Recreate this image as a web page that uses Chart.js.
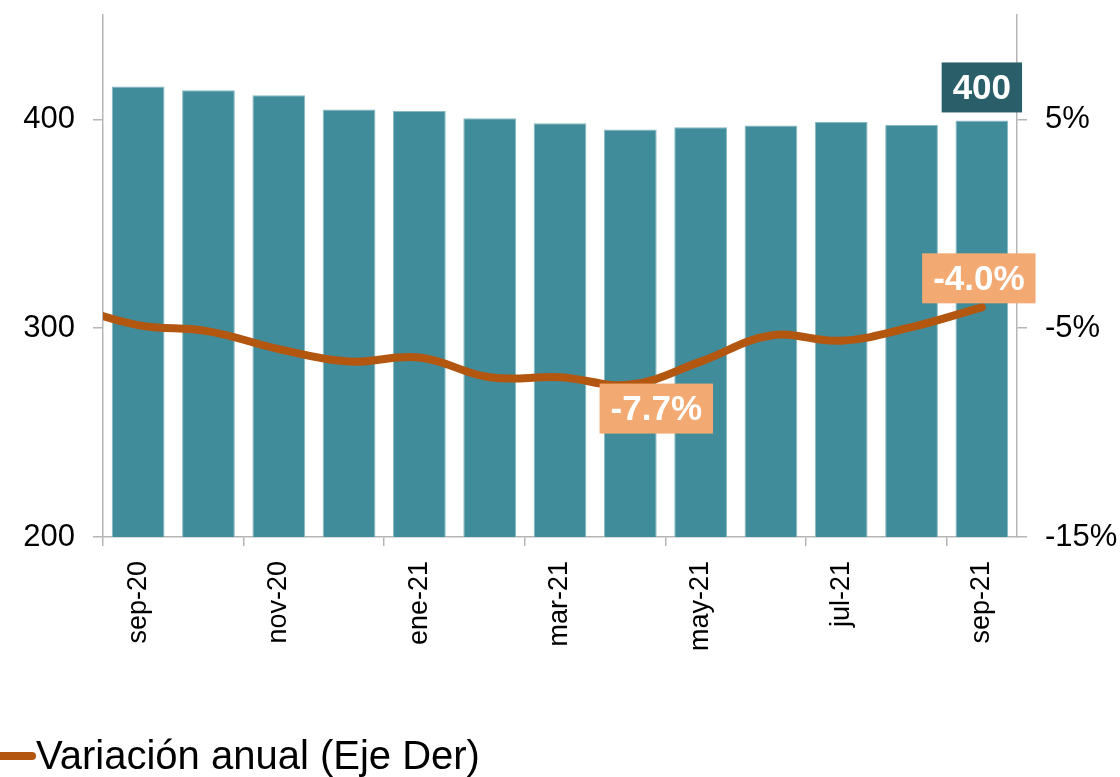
<!DOCTYPE html>
<html>
<head>
<meta charset="utf-8">
<script src="https://cdn.jsdelivr.net/npm/chart.js@4.4.1/dist/chart.umd.min.js"></script>
<style>
  html, body { margin: 0; padding: 0; background: #ffffff; }
  #wrap { width: 1120px; height: 777px; position: relative; }
</style>
</head>
<body>
<div id="wrap"><canvas id="c"></canvas></div>
<script>
// ---- data ----
const categories = ['sep-20','oct-20','nov-20','dic-20','ene-21','feb-21','mar-21','abr-21','may-21','jun-21','jul-21','ago-21','sep-21'];
const barValues = [415.8, 414.0, 411.6, 404.8, 404.0, 400.6, 398.2, 395.2, 396.2, 397.1, 398.7, 397.3, 399.5];
// annual variation (%), starts one month earlier (ago-20) than the bars
const lineMonths = ['ago-20','sep-20','oct-20','nov-20','dic-20','ene-21','feb-21','mar-21','abr-21','may-21','jun-21','jul-21','ago-21','sep-21'];
const lineValues = [-3.9, -4.85, -5.15, -6.0, -6.6, -6.4, -7.35, -7.35, -7.7, -6.6, -5.35, -5.6, -4.95, -4.0];
const leftTicks = [200, 300, 400];
const rightTicks = [-15, -5, 5];
const seriesNames = ['Stock', 'Variación anual (Eje Der)'];

const FONT = "'Liberation Sans', Arial, Helvetica, sans-serif";
const BAR_COLOR = '#418c9b';
const LINE_COLOR = '#b3560f';
const AXIS_COLOR = '#b5b5b5';

const lineData = lineValues.map((v, i) => {
  const k = categories.indexOf(lineMonths[i]);
  return { x: k === -1 ? -1 : k, y: v };
});

function drawBox(ctx, text, cx, cy, bg) {
  ctx.save();
  ctx.font = 'bold 35px ' + FONT;
  const w = ctx.measureText(text).width + 22;
  const h = 50;
  ctx.fillStyle = bg;
  ctx.fillRect(cx - w / 2, cy - h / 2, w, h);
  ctx.fillStyle = '#ffffff';
  ctx.textAlign = 'center';
  ctx.textBaseline = 'middle';
  ctx.fillText(text, cx, cy + 2);
  ctx.restore();
}

const labelPlugin = {
  id: 'labelPlugin',
  afterDatasetsDraw(chart) {
    const ctx = chart.ctx;
    const barMeta = chart.getDatasetMeta(0);
    const lastBar = barMeta.data[barValues.length - 1];
    drawBox(ctx, Math.round(barValues[barValues.length - 1]).toString(), lastBar.x, lastBar.y - 33, '#2a5f69');
    const lineMeta = chart.getDatasetMeta(1);
    let minIdx = 0;
    lineValues.forEach((v, i) => { if (v < lineValues[minIdx]) minIdx = i; });
    const pMin = lineMeta.data[minIdx];
    drawBox(ctx, lineValues[minIdx].toFixed(1) + '%', pMin.x + 26, pMin.y + 24, '#f3a972');
    const lastIdx = lineValues.length - 1;
    const pLast = lineMeta.data[lastIdx];
    drawBox(ctx, lineValues[lastIdx].toFixed(1) + '%', pLast.x - 3, pLast.y - 29, '#f3a972');
  },
  afterDraw(chart) {
    const ctx = chart.ctx;
    ctx.save();
    ctx.strokeStyle = LINE_COLOR;
    ctx.lineWidth = 8;
    ctx.lineCap = 'round';
    ctx.beginPath();
    ctx.moveTo(-6, 756);
    ctx.lineTo(32, 756);
    ctx.stroke();
    ctx.fillStyle = '#000000';
    ctx.font = '40px ' + FONT;
    ctx.textBaseline = 'alphabetic';
    ctx.textAlign = 'left';
    ctx.fillText(seriesNames[1], 36, 769);
    ctx.restore();
  }
};

const noPad = (s) => { s.paddingTop = 0; s.paddingBottom = 0; s.paddingLeft = 0; s.paddingRight = 0; };

new Chart(document.getElementById('c'), {
  data: {
    labels: categories,
    datasets: [
      {
        type: 'bar',
        label: seriesNames[0],
        data: barValues,
        backgroundColor: BAR_COLOR,
        borderColor: '#86b9c2',
        borderWidth: 1,
        grouped: false,
        barPercentage: 0.75,
        categoryPercentage: 1.0,
        xAxisID: 'x',
        yAxisID: 'y',
        order: 2
      },
      {
        type: 'line',
        label: seriesNames[1],
        data: lineData,
        borderColor: LINE_COLOR,
        borderWidth: 8,
        borderCapStyle: 'round',
        tension: 0.4,
        pointRadius: 0,
        fill: false,
        xAxisID: 'xLine',
        yAxisID: 'y2',
        clip: { left: 0, right: false, top: false, bottom: false },
        order: 1
      }
    ]
  },
  options: {
    responsive: true,
    maintainAspectRatio: false,
    animation: false,
    devicePixelRatio: 1,
    layout: { padding: { top: 15, bottom: 0, left: 0, right: 0 } },
    plugins: {
      legend: { display: false },
      tooltip: { enabled: false }
    },
    scales: {
      x: {
        type: 'category',
        offset: true,
        grid: {
          offset: true,
          drawOnChartArea: false,
          drawTicks: true,
          tickLength: 9,
          color: (c) => (c.index % 2 === 0 ? AXIS_COLOR : 'rgba(0,0,0,0)'),
          lineWidth: 1.5
        },
        border: { display: true, color: AXIS_COLOR, width: 1.5 },
        ticks: {
          autoSkip: false,
          minRotation: 90,
          maxRotation: 90,
          padding: 15,
          color: '#000000',
          font: { family: FONT, size: 27 },
          callback: (val, i) => (i % 2 === 0 ? categories[i] : '')
        },
        afterFit: (s) => { s.height = 240; noPad(s); }
      },
      xLine: {
        type: 'linear',
        display: false,
        min: -0.5,
        max: categories.length - 0.5,
        afterFit: noPad
      },
      y: {
        type: 'linear',
        position: 'left',
        min: 200,
        max: 450,
        grid: { drawOnChartArea: false, drawTicks: true, tickLength: 10, color: AXIS_COLOR, lineWidth: 1.5 },
        border: { display: true, color: AXIS_COLOR, width: 1.5 },
        ticks: { color: '#000000', padding: 18, font: { family: FONT, size: 31 } },
        afterBuildTicks: (s) => { s.ticks = leftTicks.map(v => ({ value: v })); },
        afterFit: (s) => { s.width = 103; noPad(s); }
      },
      y2: {
        type: 'linear',
        position: 'right',
        min: -15,
        max: 10,
        grid: { drawOnChartArea: false, drawTicks: true, tickLength: 10, color: AXIS_COLOR, lineWidth: 1.5 },
        border: { display: true, color: AXIS_COLOR, width: 1.5 },
        ticks: { color: '#000000', padding: 18, font: { family: FONT, size: 31 }, callback: (v) => v + '%' },
        afterBuildTicks: (s) => { s.ticks = rightTicks.map(v => ({ value: v })); },
        afterFit: (s) => { s.width = 103; noPad(s); }
      }
    }
  },
  plugins: [labelPlugin]
});
</script>
</body>
</html>
